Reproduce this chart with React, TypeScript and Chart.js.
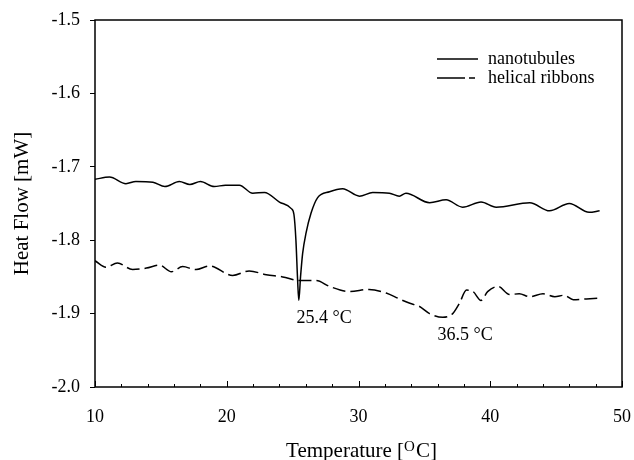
import React, { useEffect, useRef } from "react";
import { Chart, registerables } from "chart.js";

Chart.register(...registerables);

const nanoT = [10, 11.1, 12.35, 13.1, 14.4, 15.3, 16.4, 17.2, 18.0, 19.05, 19.9, 20.96, 21.97, 22.86, 24.0, 24.9, 25.1, 25.25, 25.38, 25.47, 25.6, 25.76, 26.02, 26.4, 26.9, 27.8, 28.8, 30.07, 31.08, 32.35, 33.1, 33.6, 35.4, 36.65, 37.9, 39.3, 40.45, 43.0, 44.5, 46.0, 47.5, 48.3];
const nanoHF = [-1.717, -1.714, -1.723, -1.72, -1.721, -1.727, -1.72, -1.724, -1.72, -1.727, -1.725, -1.725, -1.736, -1.735, -1.748, -1.757, -1.765, -1.8, -1.855, -1.882, -1.85, -1.818, -1.79, -1.763, -1.742, -1.734, -1.73, -1.74, -1.735, -1.736, -1.74, -1.736, -1.749, -1.745, -1.755, -1.748, -1.755, -1.749, -1.76, -1.75, -1.762, -1.76];

const helixT = [10, 10.84, 11.7, 12.86, 13.9, 14.9, 15.8, 16.65, 17.67, 18.68, 20.45, 21.7, 23.0, 24.25, 25.5, 26.8, 27.8, 29.3, 30.8, 32.1, 33.1, 33.9, 34.6, 35.4, 36.4, 37.15, 37.66, 38.2, 38.7, 39.3, 39.8, 40.6, 41.46, 42.2, 43.0, 44.0, 44.9, 45.6, 46.3, 47.3, 48.3];
const helixHF = [-1.828, -1.837, -1.831, -1.84, -1.838, -1.834, -1.843, -1.836, -1.84, -1.835, -1.848, -1.842, -1.847, -1.85, -1.855, -1.855, -1.863, -1.87, -1.867, -1.872, -1.88, -1.886, -1.89, -1.9, -1.905, -1.9, -1.886, -1.868, -1.87, -1.882, -1.87, -1.863, -1.874, -1.873, -1.877, -1.873, -1.877, -1.875, -1.881, -1.88, -1.879];

const seriesNames = ["nanotubules", "helical ribbons"];
const peakLabels = ["25.4 °C", "36.5 °C"];
const xTicks = [10, 20, 30, 40, 50];
const yTicks = [-2.0, -1.9, -1.8, -1.7, -1.6, -1.5];

const FONT = "'Liberation Serif', 'Times New Roman', serif";
const DASH = [13, 5];

const overlay = {
  id: "overlay",
  afterDraw(chart: any) {
    const { ctx, chartArea: a, scales } = chart;
    const xs = scales.x;
    const ys = scales.y;
    ctx.save();
    ctx.strokeStyle = "#000";
    ctx.lineWidth = 1.5;
    ctx.strokeRect(a.left, a.top, a.right - a.left, a.bottom - a.top);
    ctx.lineWidth = 1;
    for (let v = 10; v <= 50; v += 2) {
      const px = Math.round(xs.getPixelForValue(v)) + 0.5;
      const len = v % 10 === 0 ? 6 : 3;
      ctx.beginPath();
      ctx.moveTo(px, a.bottom);
      ctx.lineTo(px, a.bottom - len);
      ctx.stroke();
    }
    ctx.fillStyle = "#000";
    ctx.font = `18px ${FONT}`;
    ctx.textBaseline = "middle";
    ctx.textAlign = "left";
    const lx0 = 437, lx1 = 478, tx = 488;
    const ly = [59, 78];
    ctx.lineWidth = 1.5;
    ctx.beginPath();
    ctx.moveTo(lx0, ly[0]);
    ctx.lineTo(lx1, ly[0]);
    ctx.stroke();
    ctx.beginPath();
    ctx.moveTo(lx0, ly[1]);
    ctx.lineTo(465, ly[1]);
    ctx.moveTo(469, ly[1]);
    ctx.lineTo(475, ly[1]);
    ctx.stroke();
    ctx.fillText(seriesNames[0], tx, ly[0]);
    ctx.fillText(seriesNames[1], tx, ly[1]);
    ctx.textBaseline = "alphabetic";
    ctx.fillText(peakLabels[0], xs.getPixelForValue(25.3), ys.getPixelForValue(-1.913));
    ctx.fillText(peakLabels[1], xs.getPixelForValue(36.0), ys.getPixelForValue(-1.936));
    ctx.font = `21px ${FONT}`;
    const p1 = "Temperature [";
    const p2 = "O";
    const p3 = "C]";
    const w1 = ctx.measureText(p1).width;
    const w3 = ctx.measureText(p3).width;
    ctx.font = `15px ${FONT}`;
    const w2 = ctx.measureText(p2).width;
    const total = w1 + w2 + w3 + 1;
    let x = (a.left + a.right) / 2 - total / 2 + 3;
    const base = 457;
    ctx.font = `21px ${FONT}`;
    ctx.fillText(p1, x, base);
    x += w1;
    ctx.font = `15px ${FONT}`;
    ctx.fillText(p2, x, base - 6);
    x += w2 + 1;
    ctx.font = `21px ${FONT}`;
    ctx.fillText(p3, x, base);
    ctx.restore();
  },
};

export default function App() {
  const ref = useRef<HTMLCanvasElement | null>(null);
  useEffect(() => {
    if (!ref.current) return;
    const chart = new Chart(ref.current, {
      type: "line",
      data: {
        datasets: [
          {
            label: seriesNames[0],
            data: nanoT.map((t, i) => ({ x: t, y: nanoHF[i] })),
            borderColor: "#000",
            borderWidth: 1.5,
            pointRadius: 0,
            cubicInterpolationMode: "monotone",
            fill: false,
          },
          {
            label: seriesNames[1],
            data: helixT.map((t, i) => ({ x: t, y: helixHF[i] })),
            borderColor: "#000",
            borderWidth: 1.5,
            borderDash: DASH,
            pointRadius: 0,
            cubicInterpolationMode: "monotone",
            fill: false,
          },
        ],
      },
      options: {
        animation: false,
        responsive: false,
        maintainAspectRatio: false,
        layout: { padding: { left: 0, right: 12, top: 20, bottom: 0 } },
        plugins: { legend: { display: false }, tooltip: { enabled: false } },
        scales: {
          x: {
            type: "linear",
            min: 10,
            max: 50,
            afterFit: (s: any) => {
              s.height = 73;
              s.paddingLeft = 0;
              s.paddingRight = 0;
            },
            afterBuildTicks: (s: any) => {
              s.ticks = xTicks.map((v) => ({ value: v }));
            },
            grid: { display: false },
            border: { display: false },
            ticks: {
              color: "#000",
              font: { family: FONT, size: 18 },
              padding: 11,
              maxRotation: 0,
              callback: (v: any) => String(v),
            },
            title: { display: false },
          },
          y: {
            min: -2.0,
            max: -1.5,
            afterFit: (s: any) => {
              s.width = 95;
              s.paddingTop = 0;
              s.paddingBottom = 0;
            },
            afterBuildTicks: (s: any) => {
              s.ticks = yTicks.map((v) => ({ value: v }));
            },
            grid: {
              display: true,
              drawOnChartArea: false,
              drawTicks: true,
              tickLength: 5,
              color: "#000",
              lineWidth: 1,
            },
            border: { display: false },
            ticks: {
              color: "#000",
              font: { family: FONT, size: 18 },
              padding: 10,
              callback: (v: any) => Number(v).toFixed(1),
            },
            title: {
              display: true,
              text: "Heat Flow [mW]",
              color: "#000",
              font: { family: FONT, size: 21 },
              padding: { top: 10, bottom: 0 },
            },
          },
        },
      },
      plugins: [overlay],
    });
    return () => chart.destroy();
  }, []);
  return (
    <div style={{ position: "fixed", left: 0, top: 0, width: 634, height: 460, background: "#fff" }}>
      <canvas ref={ref} width={634} height={460} style={{ width: 634, height: 460, display: "block" }} />
    </div>
  );
}
